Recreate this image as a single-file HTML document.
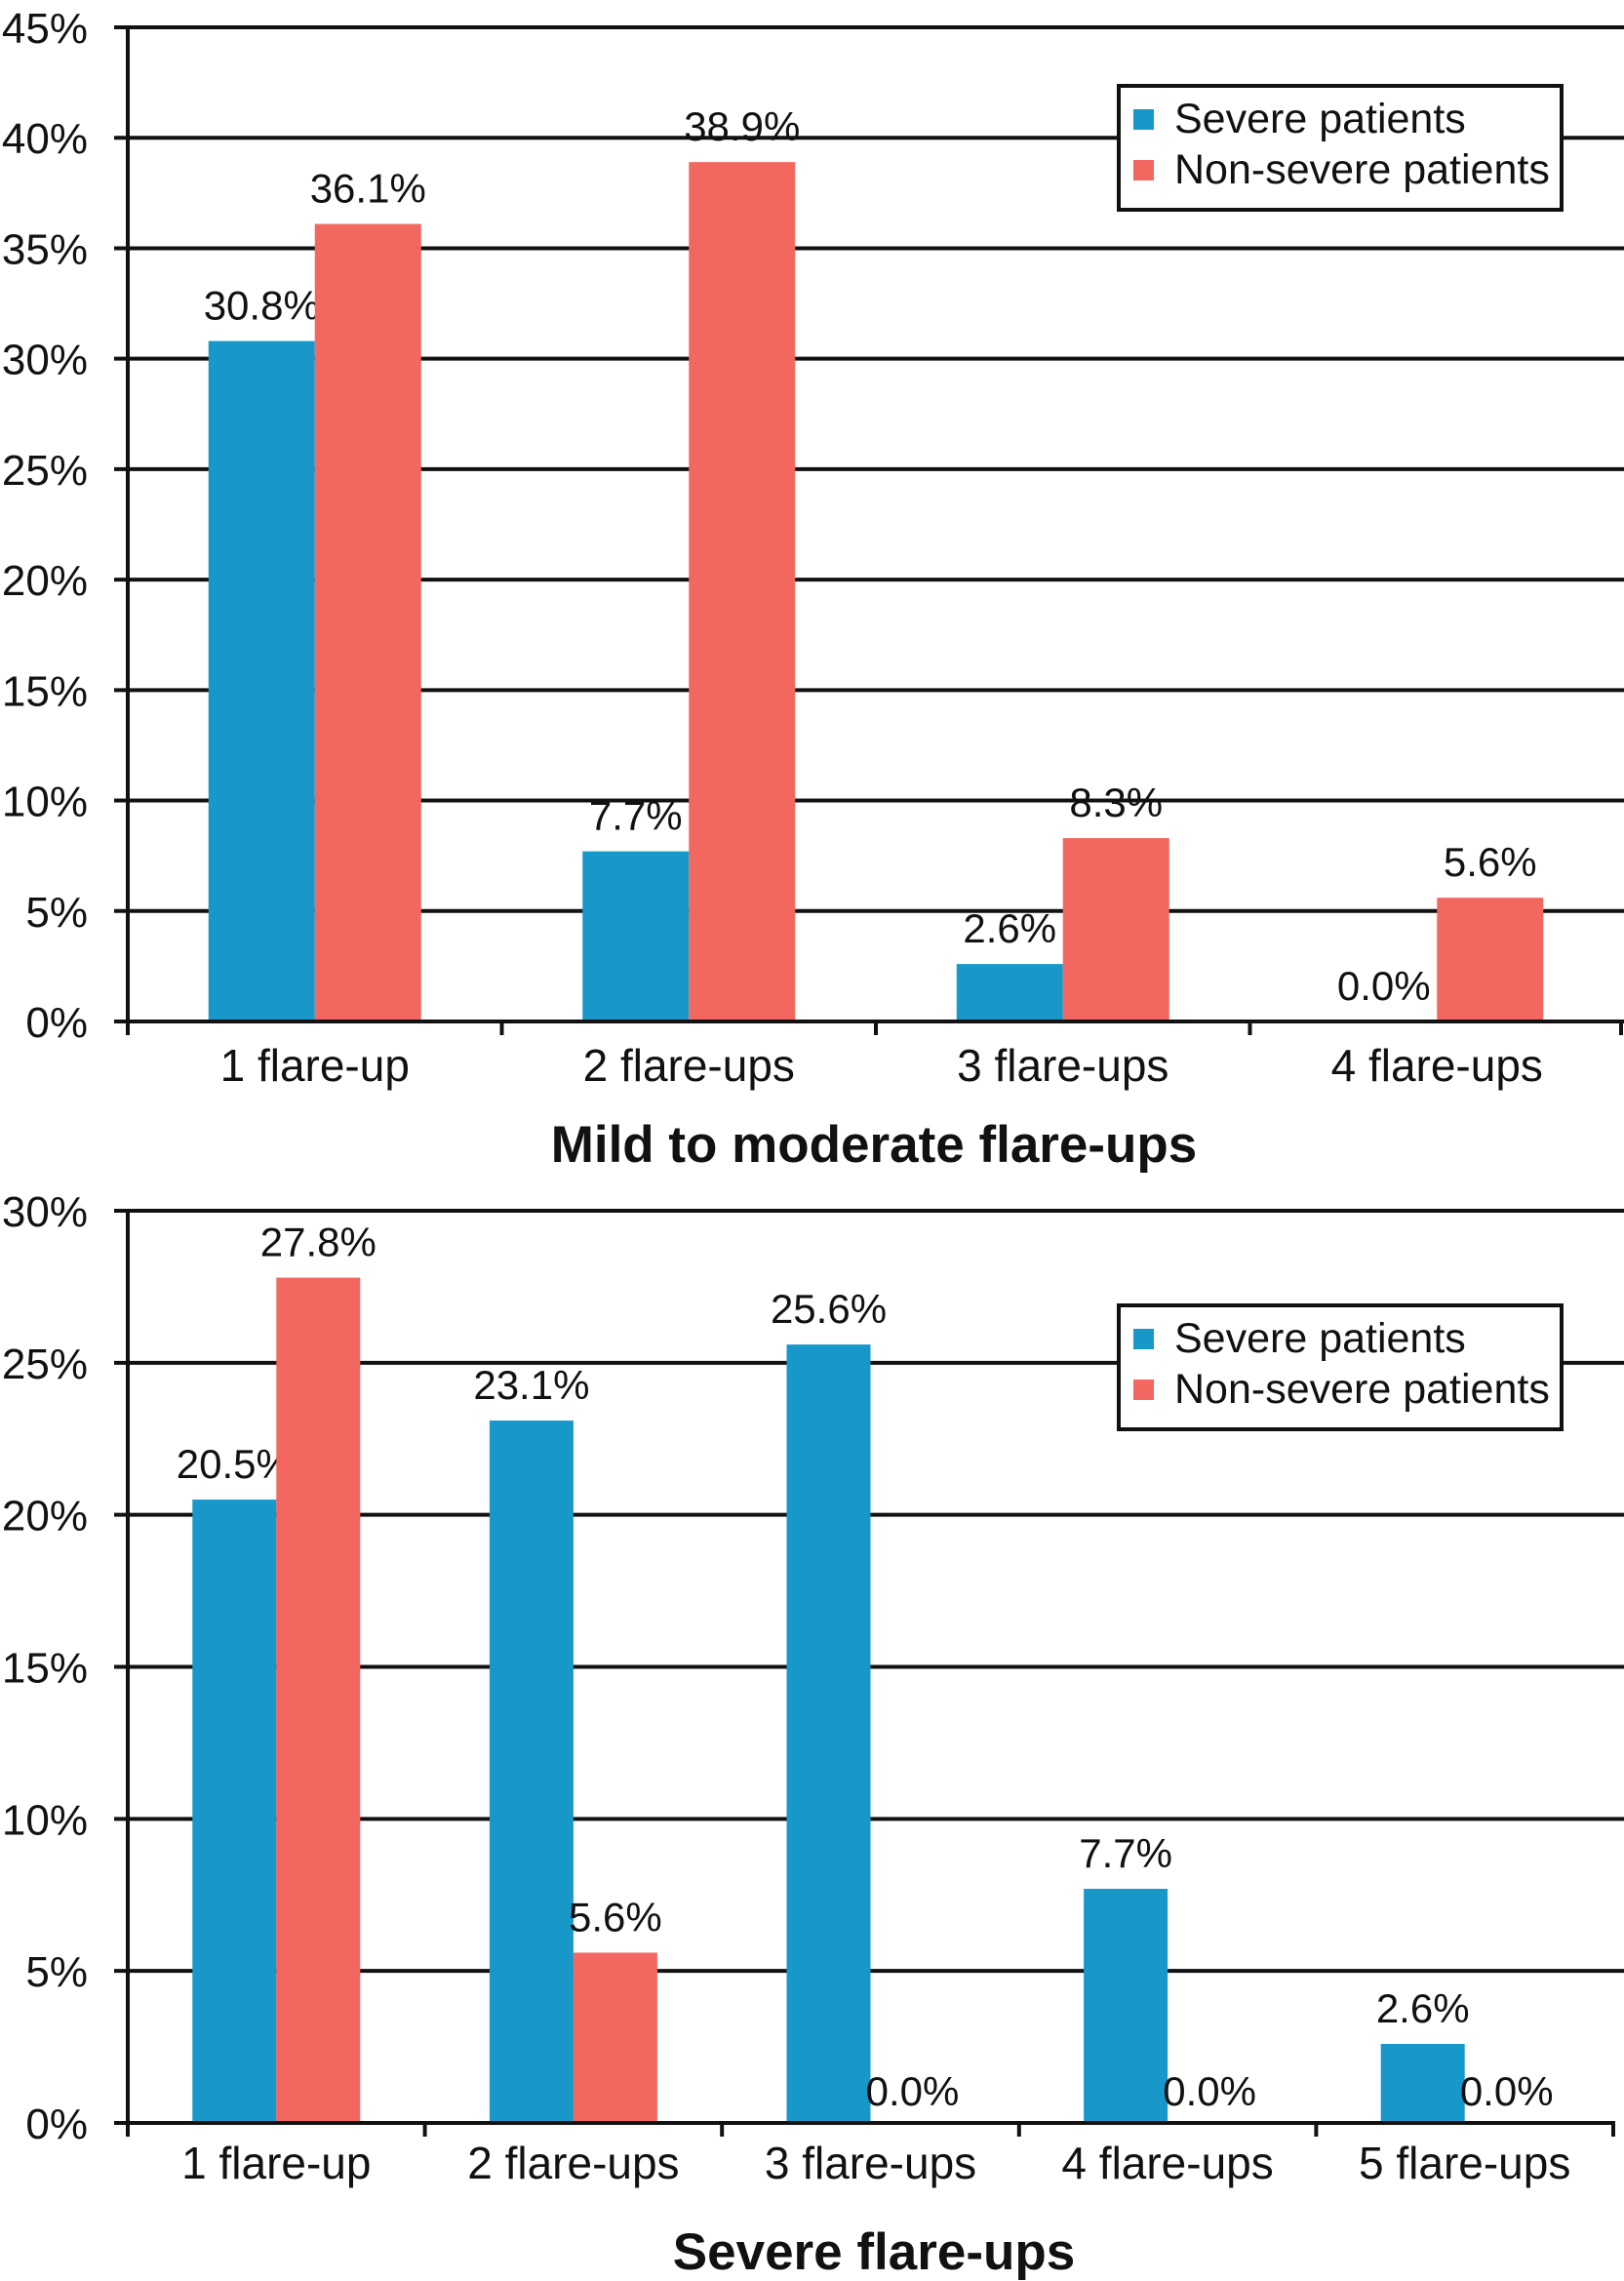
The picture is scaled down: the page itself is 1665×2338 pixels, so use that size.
<!DOCTYPE html>
<html><head><meta charset="utf-8"><style>
html,body{margin:0;padding:0;background:#fff;}
svg{display:block;font-family:"Liberation Sans",Arial,sans-serif;}
</style></head><body>
<svg id="chart" width="1665" height="2338" viewBox="0 0 1665 2338" xmlns="http://www.w3.org/2000/svg"></svg>
<script>
const topCategories = ["1 flare-up","2 flare-ups","3 flare-ups","4 flare-ups"];
const topSevere = [30.8, 7.7, 2.6, 0.0];
const topNonSevere = [36.1, 38.9, 8.3, 5.6];
const topTicks = [0,5,10,15,20,25,30,35,40,45];
const botCategories = ["1 flare-up","2 flare-ups","3 flare-ups","4 flare-ups","5 flare-ups"];
const botSevere = [20.5, 23.1, 25.6, 7.7, 2.6];
const botNonSevere = [27.8, 5.6, 0.0, 0.0, 0.0];
const botTicks = [0,5,10,15,20,25,30];
const seriesNames = ["Severe patients","Non-severe patients"];

const NS="http://www.w3.org/2000/svg";
const svg=document.getElementById('chart');
const BLUE="#1897c9", RED="#f26860";
function mk(tag,attrs,parent){const e=document.createElementNS(NS,tag);for(const k in attrs)e.setAttribute(k,attrs[k]);(parent||svg).appendChild(e);return e;}

function drawChart(cfg){
  const g=mk('g',{});
  
  
  const x0=131,x1=cfg.x1,yTop=cfg.yTop,yBot=cfg.yBot,max=cfg.ticks[cfg.ticks.length-1];
  const y=v=>yBot-(v/max)*(yBot-yTop);
  const n=cfg.cats.length, cw=(x1-x0)/n;
  cfg.ticks.forEach(t=>{
    const yy=y(t);
    if(t>0){const l=mk('line',{x1:x0-14,x2:1665,y1:yy,y2:yy,stroke:'#111','stroke-width':4},g);
      }
    const tx=mk('text',{x:90,y:yy+16,'text-anchor':'end','font-size':44,fill:'#111'},g);
    tx.textContent=t+'%';
    
  });
  cfg.cats.forEach((c,i)=>{
    const cx=x0+cw*(i+0.5);
    [[cfg.s1,BLUE,-1],[cfg.s2,RED,0]].forEach(([arr,col,off],si)=>{
      const v=arr[i], bx=cx+off*cfg.bw, by=y(v);
      if(v>0){const r=mk('rect',{x:bx,y:by,width:cfg.bw,height:yBot-by,fill:col},g);
        }
      const t=mk('text',{x:bx+cfg.bw/2,y:by-(v>0?22:cfg.zeroOff),'text-anchor':'middle','font-size':42,fill:'#111'},g);
      t.textContent=v.toFixed(1)+'%';
      
    });
    const cl=mk('text',{x:cx,y:cfg.labelY,'text-anchor':'middle','font-size':46,fill:'#111'},g);
    cl.textContent=c;
    
  });
  const ya=mk('line',{x1:x0,x2:x0,y1:yTop-2,y2:yBot+14,stroke:'#111','stroke-width':4},g);
  
  const xa=mk('line',{x1:x0-14,x2:Math.min(x1+2,1665),y1:yBot,y2:yBot,stroke:'#111','stroke-width':4},g);
  
  for(let i=1;i<=n;i++){const xx=Math.min(x0+cw*i,1662);const tk=mk('line',{x1:xx,x2:xx,y1:yBot,y2:yBot+14,stroke:'#111','stroke-width':4},g);
    }
  const ti=mk('text',{x:896,y:cfg.titleY,'text-anchor':'middle','font-size':53,'font-weight':'bold',fill:'#111'},g);
  ti.textContent=cfg.title;
  
  const lg=mk('g',{},g);
  
  mk('rect',{x:1147,y:cfg.legY,width:454,height:127,fill:'#fff',stroke:'#111','stroke-width':4},lg);
  [BLUE,RED].forEach((col,k)=>{
    const ry=cfg.legY+25+k*52;
    const e=mk('g',{},lg);
    
    mk('rect',{x:1162,y:ry-1,width:21,height:21,fill:col},e);
    const t=mk('text',{x:1204,y:ry+23,'font-size':43,fill:'#111'},e);
    t.textContent=seriesNames[k];
  });
}
drawChart({name:'mild-moderate-chart',cats:topCategories,s1:topSevere,s2:topNonSevere,ticks:topTicks,x1:1665,yTop:28,yBot:1047,bw:109,labelY:1108,titleY:1191,title:'Mild to moderate flare-ups',legY:88,zeroOff:22});
drawChart({name:'severe-chart',cats:botCategories,s1:botSevere,s2:botNonSevere,ticks:botTicks,x1:1654,yTop:1241,yBot:2176,bw:86,labelY:2233,titleY:2326,title:'Severe flare-ups',legY:1338,zeroOff:18});
</script>
</body></html>
